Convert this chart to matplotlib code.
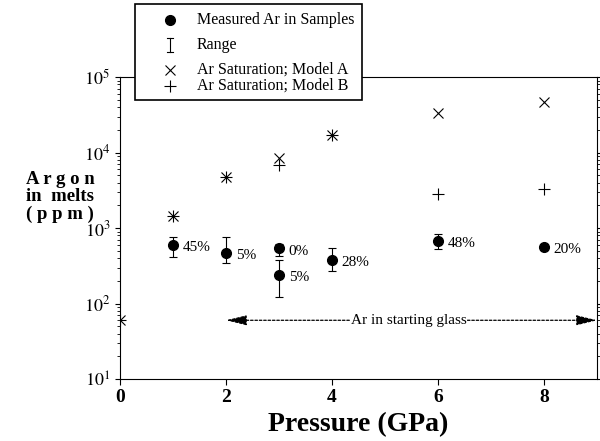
import numpy as np
import matplotlib.pyplot as plt
from matplotlib.lines import Line2D
from matplotlib.patches import Rectangle

plt.rcParams['font.family'] = ['Liberation Serif', 'DejaVu Serif']
plt.rcParams['mathtext.fontset'] = 'stix'

# Ar saturation, two models
p_a = [0, 1, 2, 3, 4, 6, 8]
ar_a = [60, 1440, 4800, 8400, 17000, 33500, 46500]
p_b = [0, 1, 2, 3, 4, 6, 8]
ar_b = [60, 1440, 4800, 6800, 17000, 2850, 3300]

# measured Ar in samples with ranges
p_m = [1, 2, 3, 3, 4, 6, 8]
ar_m = [600, 470, 540, 240, 380, 670, 560]
ar_lo = [420, 345, 430, 122, 270, 530, 520]
ar_hi = [760, 770, 615, 375, 550, 830, 610]
pct = ['45%', '5%', '0%', '5%', '28%', '48%', '20%']

glass_ar = 60

W, H = 600, 441
fig = plt.figure(figsize=(6, 4.41), dpi=100)
ax = fig.add_axes([0.2, 0.1406, 0.795, 0.6844])

ax.set_yscale('log')
ax.set_xlim(0, 9)
ax.set_ylim(10, 1e5)

ax.plot(p_a, ar_a, 'x', color='black', ms=7, mew=0.8)
ax.plot(p_b, ar_b, '+', color='black', ms=9, mew=0.8)

ar_m = np.array(ar_m)
yerr = [ar_m - np.array(ar_lo), np.array(ar_hi) - ar_m]
ax.errorbar(p_m, ar_m, yerr=yerr, fmt='o', color='black', ms=7,
            ecolor='black', elinewidth=0.8, capsize=3, capthick=0.8)
for px, py, t in zip(p_m, ar_m, pct):
    ax.annotate(t, (px, py), xytext=(7, -2), textcoords='offset points',
                fontsize=11, ha='left', va='center')

# starting glass arrow
for end in (2, 9):
    ax.annotate('', xy=(end, glass_ar), xytext=(5.4, glass_ar),
                arrowprops=dict(arrowstyle='-|>,head_length=0.7,head_width=0.17',
                                ls=(0, (2, 1.5)), lw=0.9, color='black',
                                mutation_scale=18, shrinkA=0, shrinkB=0))
ax.text(5.45, glass_ar, 'Ar in starting glass', ha='center', va='center',
        fontsize=11, bbox=dict(facecolor='white', edgecolor='none', pad=0.5))

ax.set_xticks([0, 2, 4, 6, 8])
ax.set_yticks([1e1, 1e2, 1e3, 1e4, 1e5])
ax.set_yticklabels(['$10^1$', '$10^2$', '$10^3$', '$10^4$', '$10^5$'])
ax.tick_params(axis='x', labelsize=14, length=4, direction='out')
ax.tick_params(axis='y', which='both', direction='out', labelsize=13)
for lab in ax.get_xticklabels() + ax.get_yticklabels():
    lab.set_fontweight('bold')
ax.yaxis.set_tick_params(which='both', right=True)

ax.set_xlabel('Pressure (GPa)', fontsize=20, fontweight='bold', labelpad=4)
fig.text(60 / W, 1 - 197 / H, 'A r g o n\nin  melts\n( p p m )', ha='center',
         va='center', multialignment='center', fontsize=13.5, fontweight='bold',
         linespacing=1.05)

# legend drawn by hand to follow the original box layout
fig.patches.append(Rectangle((135 / W, 1 - 100 / H), 227 / W, 96 / H,
                             transform=fig.transFigure, facecolor='white',
                             edgecolor='black', lw=1.2, zorder=5))
labels = ['Measured Ar in Samples', 'Range', 'Ar Saturation; Model A',
          'Ar Saturation; Model B']
rows = [20, 45, 70, 86]
mx = 170 / W
fig.add_artist(Line2D([mx], [1 - rows[0] / H], marker='o', color='black', ms=7,
                      transform=fig.transFigure, zorder=6))
y0, y1 = 1 - 38 / H, 1 - 52 / H
fig.add_artist(Line2D([mx, mx], [y0, y1], color='black', lw=0.8,
                      transform=fig.transFigure, zorder=6))
for yy in (y0, y1):
    fig.add_artist(Line2D([mx - 3 / W, mx + 3 / W], [yy, yy], color='black',
                          lw=0.8, transform=fig.transFigure, zorder=6))
fig.add_artist(Line2D([mx], [1 - rows[2] / H], marker='x', color='black', ms=7,
                      mew=0.8, transform=fig.transFigure, zorder=6))
fig.add_artist(Line2D([mx], [1 - rows[3] / H], marker='+', color='black', ms=9,
                      mew=0.8, transform=fig.transFigure, zorder=6))
for r, t in zip(rows, labels):
    fig.text(197 / W, 1 - r / H, t, fontsize=11.5, va='center', ha='left',
             zorder=6)

fig.savefig('out.png', dpi=100)
